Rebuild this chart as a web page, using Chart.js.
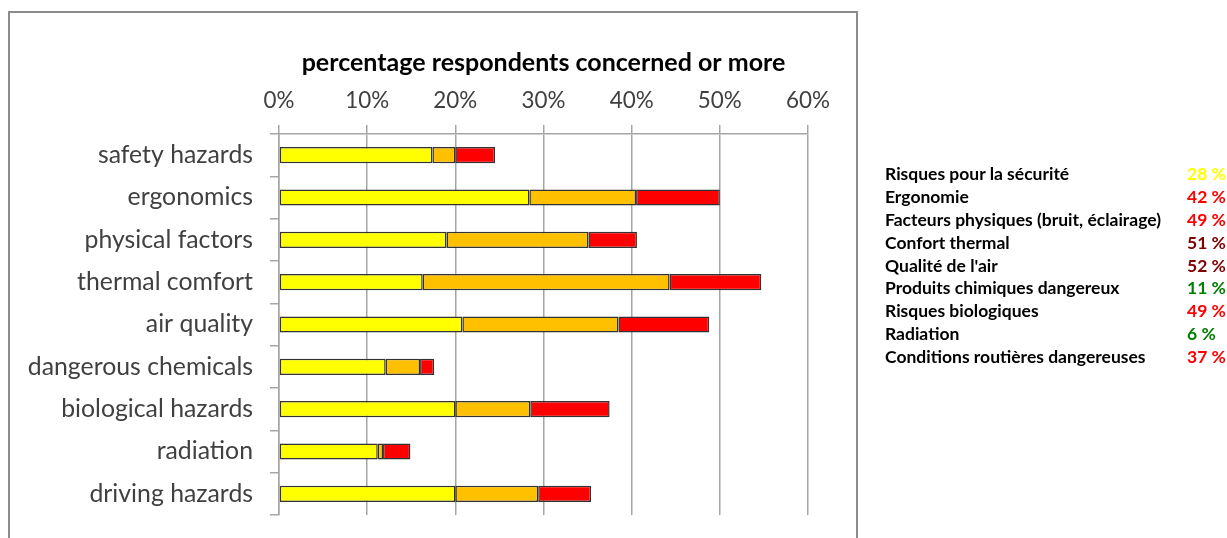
<!DOCTYPE html>
<html><head><meta charset="utf-8">
<script src="https://cdn.jsdelivr.net/npm/chart.js@4.4.0/dist/chart.umd.min.js"></script>
<style>
html,body{margin:0;padding:0;background:#fff;width:1227px;height:538px;overflow:hidden;}
#frame{position:absolute;left:8px;top:11px;width:850px;height:600px;border:2px solid #8c8c8c;box-sizing:border-box;}
#wrap{position:absolute;left:0;top:0;width:1227px;height:538px;}
#side{position:absolute;left:885px;top:163px;font:bold 17.5px Lato;color:#000;}
.row{position:relative;height:22.9px;line-height:22.9px;white-space:nowrap;}
.pct{position:absolute;left:302px;top:0;}
</style></head>
<body>
<div id="frame"></div>
<div id="wrap"><canvas id="c" width="1227" height="538"></canvas></div>
<div id="side"></div>
<script>
const categories = ['safety hazards','ergonomics','physical factors','thermal comfort','air quality','dangerous chemicals','biological hazards','radiation','driving hazards'];
const yellowVals = [17.4, 28.4, 19.0, 16.3, 20.8, 12.1, 20.0, 11.2, 20.0];
const orangeVals = [2.6, 12.1, 16.1, 28.0, 17.7, 3.9, 8.5, 0.6, 9.4];
const redVals    = [4.5, 9.5, 5.5, 10.4, 10.3, 1.6, 9.0, 3.1, 6.0];
const xTicks = [0, 10, 20, 30, 40, 50, 60];
const chartTitle = 'percentage respondents concerned or more';

const frLabels = ['Risques pour la sécurité','Ergonomie','Facteurs physiques (bruit, éclairage)','Confort thermal','Qualité de l\'air','Produits chimiques dangereux','Risques biologiques','Radiation','Conditions routières dangereuses'];
const frPct = [28, 42, 49, 51, 52, 11, 49, 6, 37];
const frColors = ['#ffff00','#ff0000','#ff0000','#7f0000','#7f0000','#008000','#ff0000','#008000','#ff0000'];

const side = document.getElementById('side');
frLabels.forEach((l, i) => {
  const r = document.createElement('div'); r.className = 'row';
  r.textContent = l;
  const p = document.createElement('span'); p.className = 'pct';
  p.style.color = frColors[i]; p.textContent = frPct[i] + ' %';
  r.appendChild(p); side.appendChild(r);
});

Chart.defaults.font.family = 'Lato';
const gridCol = '#a6a6a6';
new Chart(document.getElementById('c'), {
  type: 'bar',
  data: {
    labels: categories,
    datasets: [
      {data: yellowVals, backgroundColor: '#ffff00', borderColor: '#333333', borderWidth: 1.5, borderSkipped: false},
      {data: orangeVals, backgroundColor: '#ffc000', borderColor: '#333333', borderWidth: 1.5, borderSkipped: false},
      {data: redVals, backgroundColor: '#ff0000', borderColor: '#333333', borderWidth: 1.5, borderSkipped: false}
    ]
  },
  options: {
    indexAxis: 'y',
    responsive: false,
    animation: false,
    barPercentage: 0.38,
    categoryPercentage: 1,
    layout: {padding: {left: 0, right: 1227 - 808, top: 0, bottom: 538 - 515}},
    plugins: {legend: {display: false}, tooltip: {enabled: false}, title: {display: false}},
    scales: {
      x: {
        position: 'top', stacked: true, min: 0, max: 60,
        afterBuildTicks: (s) => { s.ticks = xTicks.map(v => ({value: v})); },
        afterFit: (s) => { s.height = 134; },
        ticks: {callback: v => v + '%', color: '#404040', font: {size: 22.4}, padding: 11, maxRotation: 0},
        grid: {color: gridCol, lineWidth: 1.5, tickLength: 9},
        border: {color: gridCol, width: 1.5},
        title: {display: true, text: chartTitle, color: '#000', font: {size: 25, weight: 'bold'}, padding: {top: 48, bottom: 0}}
      },
      y: {
        stacked: true,
        afterFit: (s) => { s.width = 279; s.paddingTop = 0; s.paddingBottom = 0; },
        ticks: {color: '#404040', font: {size: 24.8}, padding: 17},
        grid: {drawOnChartArea: false, color: gridCol, lineWidth: 1.5, tickLength: 9},
        border: {color: gridCol, width: 1.5}
      }
    }
  }
});
</script>
</body></html>
